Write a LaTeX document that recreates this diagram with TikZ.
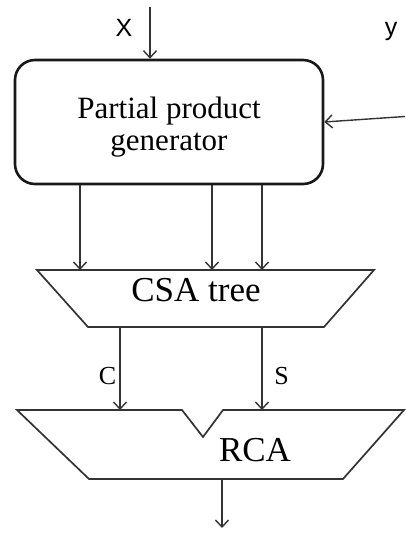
\documentclass[tikz,border=0pt]{standalone}
\usepackage{fontspec}
\setmainfont{Liberation Serif}
\newfontfamily\ioFont{Liberation Sans}
\usetikzlibrary{arrows.meta}

\tikzset{
    wire/.style={draw=black!80, line width=1.4pt, -{Straight Barb[length=7pt, width=13pt, line width=1.4pt]}},
    unitline/.style={draw=black!80, line width=1.7pt, line join=miter},
    ppgbox/.style={draw=black!90, line width=2.6pt, rounded corners=20pt, minimum width=308pt,
        minimum height=124pt, inner sep=0pt},
    ppgtext/.style={align=center, inner sep=0pt, font=\fontsize{31}{32}\selectfont},
    unitlabel/.style={anchor=base, inner sep=0pt, font=\fontsize{35}{35}\selectfont},
    siglabel/.style={anchor=base, inner sep=0pt, font=\fontsize{26}{26}\selectfont},
    iolabel/.style={anchor=base, inner sep=0pt, font=\ioFont\fontsize{25}{25}\selectfont},
}

\begin{document}
\begin{tikzpicture}[x=1pt, y=-1pt]
    \useasboundingbox (0,0) rectangle (405,535);

    % partial product generator and its inputs
    \node[ppgbox] (ppg) at (169,122) {};
    \node[ppgtext] (ppgtext) at (169,127) {Partial product\\generator};
    \coordinate (xin) at (150,7);
    \coordinate (yin) at (405,116.5);
    \node[iolabel] (xlbl) at (124,37) {X};
    \node[iolabel] (ylbl) at (391,36) {y};
    \draw[wire] (xin) -- (xin |- ppg.north);
    \draw[wire] (yin) -- (ppg.east);

    % CSA tree
    \coordinate (csa-tl) at (37,270);
    \coordinate (csa-tr) at (374,270);
    \coordinate (csa-br) at (324,327);
    \coordinate (csa-bl) at (88,327);
    \draw[unitline] (csa-tl) -- (csa-tr) -- (csa-br) -- (csa-bl) -- cycle;
    \node[unitlabel] (csa) at (196,301) {CSA tree};
    \coordinate (pp1) at (80,270);
    \coordinate (pp2) at (212,270);
    \coordinate (pp3) at (262,270);
    \draw[wire] (ppg.south -| pp1) -- (pp1);
    \draw[wire] (ppg.south -| pp2) -- (pp2);
    \draw[wire] (ppg.south -| pp3) -- (pp3);

    % RCA
    \coordinate (rca-tl) at (17,410);
    \coordinate (notch-l) at (182,410);
    \coordinate (notch) at (203,437);
    \coordinate (notch-r) at (223,410);
    \coordinate (rca-tr) at (404,410);
    \coordinate (rca-br) at (343,479);
    \coordinate (rca-bl) at (89,479);
    \draw[unitline] (rca-tl) -- (notch-l) -- (notch) -- (notch-r) -- (rca-tr)
        -- (rca-br) -- (rca-bl) -- cycle;
    \node[unitlabel] (rca) at (255,461) {RCA};
    \coordinate (cin) at (120,410);
    \coordinate (sin) at (262,410);
    \draw[wire] (cin |- csa-bl) -- (cin);
    \draw[wire] (sin |- csa-bl) -- (sin);
    \node[siglabel] (clbl) at (107.5,384) {C};
    \node[siglabel] (slbl) at (281.5,384) {S};

    % output
    \coordinate (out) at (222,528);
    \draw[wire] (out |- rca-bl) -- (out);
\end{tikzpicture}
\end{document}
